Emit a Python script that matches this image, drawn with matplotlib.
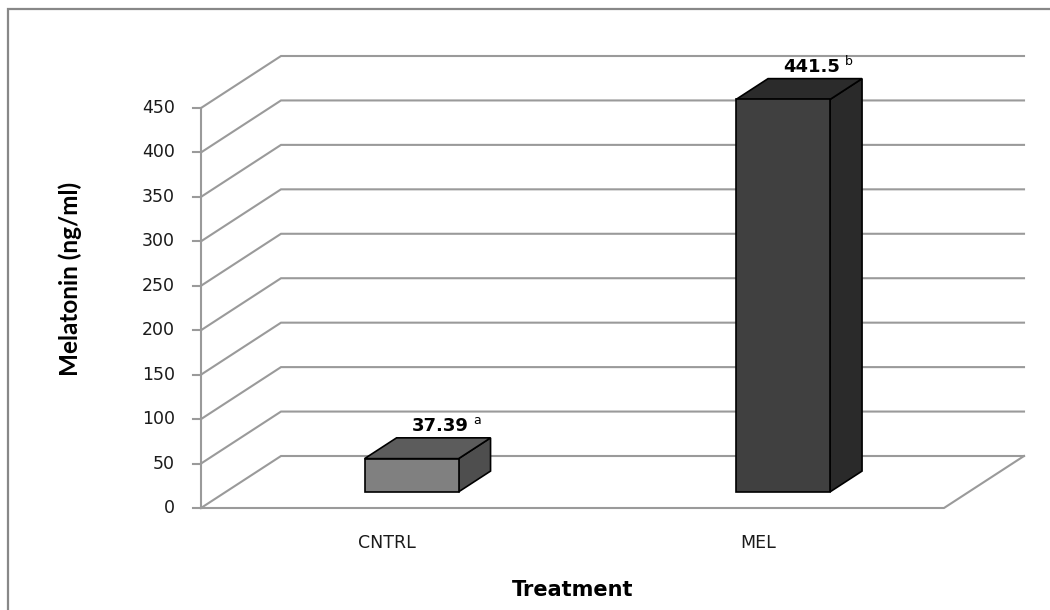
import matplotlib
matplotlib.use("Agg")
import matplotlib.pyplot as plt
from matplotlib.patches import Polygon, Rectangle
from matplotlib.lines import Line2D
from matplotlib.transforms import IdentityTransform
import numpy as np

# ---- data ----
categories = ["CNTRL", "MEL"]
values = [37.39, 441.5]
value_labels = ["37.39", "441.5"]
letters = ["a", "b"]
yticks = [0, 50, 100, 150, 200, 250, 300, 350, 400, 450]
xlabel = "Treatment"
ylabel = "Melatonin (ng/ml)"

# ---- style ----
DPI = 100
DX, DY = 80, 52          # depth offset of back wall, pixels
D0, D1 = 0.31, 0.71      # bar depth span (fraction of depth)
BAR_W = 0.253
grid_c = "#9a9a9a"
face_cols = [("#808080", "#5c5c5c", "#4e4e4e"), ("#404040", "#2b2b2b", "#2a2a2a")]

fig = plt.figure(figsize=(10.5, 6.1), dpi=DPI)
ax = fig.add_axes([201 / 1050, 102 / 610, 743 / 1050, 400 / 610])
ax.set_xlim(-0.5, len(categories) - 0.5)
ax.set_ylim(yticks[0], yticks[-1])
ax.axis("off")

ID = IdentityTransform()


def P(x, v, d=0.0):
    px, py = ax.transData.transform((x, v))
    return (px + d * DX, py + d * DY)


def line(pts, **kw):
    xs, ys = zip(*pts)
    fig.add_artist(Line2D(xs, ys, transform=ID, **kw))


x0, x1 = ax.get_xlim()
lw_grid = 1.5
# back wall gridlines and side wall diagonals
for t in yticks:
    line([P(x0, t, 0), P(x0, t, 1), P(x1, t, 1)], color=grid_c, lw=lw_grid, zorder=1,
         solid_joinstyle="miter")
# floor front and right edge
line([P(x0, 0, 0), P(x1, 0, 0), P(x1, 0, 1)], color=grid_c, lw=lw_grid, zorder=1)
# front vertical axis
line([P(x0, yticks[0], 0), P(x0, yticks[-1], 0)], color=grid_c, lw=lw_grid, zorder=1.5)
for t in yticks:
    px, py = P(x0, t, 0)
    line([(px - 8, py), (px, py)], color=grid_c, lw=lw_grid, zorder=1.5)
    fig.text(px - 26, py, f"{t}", transform=ID, ha="right", va="center",
             fontsize=12.5, color="#1a1a1a", family="DejaVu Sans")

# bars
for i, (cat, v) in enumerate(zip(categories, values)):
    front_c, top_c, side_c = face_cols[i]
    l, r = i - BAR_W / 2, i + BAR_W / 2
    side = [P(r, 0, D0), P(r, v, D0), P(r, v, D1), P(r, 0, D1)]
    top = [P(l, v, D0), P(r, v, D0), P(r, v, D1), P(l, v, D1)]
    front = [P(l, 0, D0), P(r, 0, D0), P(r, v, D0), P(l, v, D0)]
    for pts, c in ((side, side_c), (top, top_c), (front, front_c)):
        fig.add_artist(Polygon(pts, closed=True, transform=ID, fc=c, ec="black",
                               lw=1.2, joinstyle="miter", zorder=3))
    # value label
    mx, my = P(i, v, (D0 + D1) / 2)
    fig.text(mx + 41, my + 17, value_labels[i], transform=ID, ha="right",
             va="baseline", fontsize=13, fontweight="bold", color="black",
             family="DejaVu Sans")
    fig.text(mx + 46, my + 24, letters[i], transform=ID, ha="left",
             va="baseline", fontsize=9, color="black", family="DejaVu Sans")
    # category label
    cx, cy = P(i, 0, 0)
    fig.text(cx, cy - 35, cat, transform=ID, ha="center", va="center",
             fontsize=12.5, color="#1a1a1a", family="DejaVu Sans")

# axis titles
cx, cy = P((x0 + x1) / 2, 0, 0)
fig.text(cx, cy - 82, xlabel, transform=ID, ha="center", va="center",
         fontsize=15, fontweight="bold", color="black", family="DejaVu Sans")
fig.text(70, 610 - 279, ylabel, transform=ID, ha="center", va="center",
         rotation=90, fontsize=17.5, fontweight="bold", color="black", family="Lato")

# outer chart frame
fig.add_artist(Rectangle((8, -20), 1100, 601 + 20, transform=ID, fill=False,
                         ec="#888888", lw=1.6, zorder=0.5))

fig.savefig("out.png", dpi=DPI)
